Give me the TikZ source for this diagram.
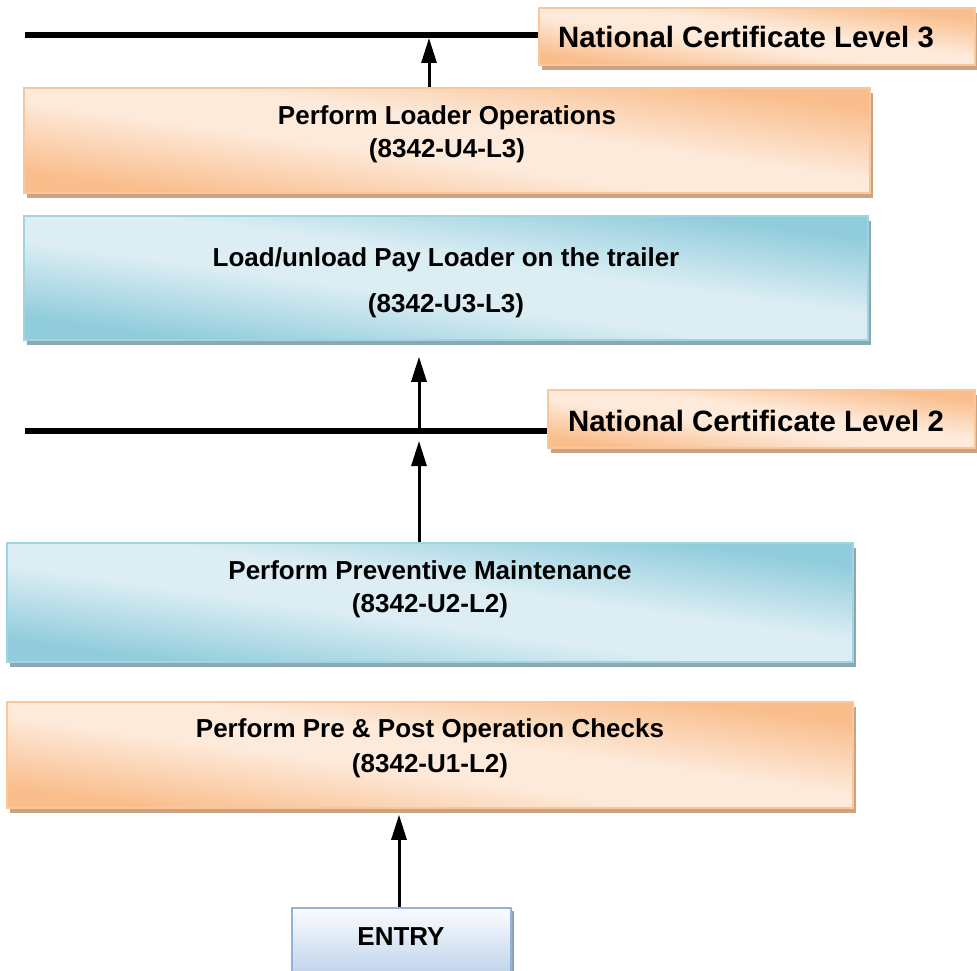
\documentclass[tikz,border=0pt]{standalone}
\usepackage{fontspec}
\setmainfont{Liberation Sans}
\usetikzlibrary{arrows.meta,shadows}
\definecolor{orlight}{RGB}{253,234,218}
\definecolor{ordark}{RGB}{249,190,140}
\definecolor{oredge}{RGB}{250,198,155}
\definecolor{orshadow}{RGB}{205,162,126}
\definecolor{bllight}{RGB}{220,238,244}
\definecolor{bldark}{RGB}{144,204,220}
\definecolor{bledge}{RGB}{160,212,226}
\definecolor{blshadow}{RGB}{140,168,176}
\definecolor{entrytop}{RGB}{250,252,255}
\definecolor{entrybot}{RGB}{192,211,234}
\definecolor{entryedge}{RGB}{149,179,215}
\definecolor{entryshadow}{RGB}{140,160,190}
\pgfdeclareverticalshading{orangeband}{100bp}{color(0bp)=(ordark); color(27bp)=(ordark);
  color(45bp)=(orlight); color(55bp)=(orlight); color(73bp)=(ordark); color(100bp)=(ordark)}
\pgfdeclareverticalshading{blueband}{100bp}{color(0bp)=(bldark); color(27bp)=(bldark);
  color(45bp)=(bllight); color(55bp)=(bllight); color(73bp)=(bldark); color(100bp)=(bldark)}

\begin{document}
\begin{tikzpicture}[x=1pt,y=-1pt,>={Triangle[length=25pt,width=15pt]},
                    line width=3pt]
    \tikzstyle{unit}=[draw, line width=1.5pt, inner sep=0pt, shading angle=-8]
    \tikzstyle{orangeunit}=[unit, draw=oredge, shading=orangeband,
        drop shadow={shadow xshift=3pt,shadow yshift=-5pt,fill=orshadow,opacity=1}]
    \tikzstyle{blueunit}=[unit, draw=bledge, shading=blueband,
        drop shadow={shadow xshift=3pt,shadow yshift=-5pt,fill=blshadow,opacity=1}]
    \tikzstyle{entrybox}=[draw=entryedge, line width=1.5pt, top color=entrytop,
        bottom color=entrybot, inner sep=0pt,
        drop shadow={shadow xshift=3pt,shadow yshift=-3pt,fill=entryshadow,opacity=1}]
    \tikzstyle{unittext}=[align=center, font=\bfseries\fontsize{26}{33}\selectfont]
    \tikzstyle{leveltext}=[font=\bfseries\fontsize{29.4}{35}\selectfont]
    \tikzstyle{bar}=[line width=5.5pt]

    \useasboundingbox (0,0) rectangle (977,971);

    % certificate levels
    \node[orangeunit, minimum width=436pt, minimum height=57pt] (lev3) at (757,36.5) {};
    \node[leveltext] (lev3t) at (746,37) {National Certificate Level 3};
    \node[orangeunit, minimum width=427pt, minimum height=58pt] (lev2) at (761.5,419) {};
    \node[leveltext] (lev2t) at (756,421) {National Certificate Level 2};

    % unit standards
    \node[orangeunit, minimum width=846pt, minimum height=105pt] (u4) at (447,140.5) {};
    \node[unittext] (u4t) at (447,134.5) {Perform Loader Operations\\(8342-U4-L3)};
    \node[blueunit, minimum width=844pt, minimum height=124pt] (u3) at (446,278) {};
    \node[unittext] (u3t) at (446,283) {Load/unload Pay Loader on the trailer\\[13pt](8342-U3-L3)};
    \node[blueunit, minimum width=846pt, minimum height=119pt] (u2) at (430,602.5) {};
    \node[unittext] (u2t) at (430,589.5) {Perform Preventive Maintenance\\(8342-U2-L2)};
    \node[orangeunit, minimum width=846pt, minimum height=106pt] (u1) at (430,755) {};
    \node[unittext] (u1t) at (430,748) {Perform Pre \& Post Operation Checks\\[2pt](8342-U1-L2)};

    \node[entrybox, minimum width=219pt, minimum height=67pt] (entry) at (401.5,941.5) {};
    \node[unittext] (entryt) at (401,937) {ENTRY};

    % level bars
    \coordinate (l3) at (25,35);
    \coordinate (j3) at (429,35);
    \coordinate (l2) at (25,431);
    \coordinate (j2) at (419,431);
    \draw[bar] (l3) -- (l3 -| lev3.west);
    \draw[bar] (l2) -- (l2 -| lev2.west);

    % progression
    \draw[->, shorten >=6pt] ([xshift=-2.5pt]entry.north) -- ([xshift=-2.5pt]entry.north |- u1.south);
    \draw[->, shorten >=10pt] (u2.north -| j2) -- (j2);
    \draw[->, shorten >=16pt] (j2) -- (j2 |- u3.south);
    \draw[->, shorten >=3pt] (u4.north -| j3) -- (j3);

\end{tikzpicture}
\end{document}
